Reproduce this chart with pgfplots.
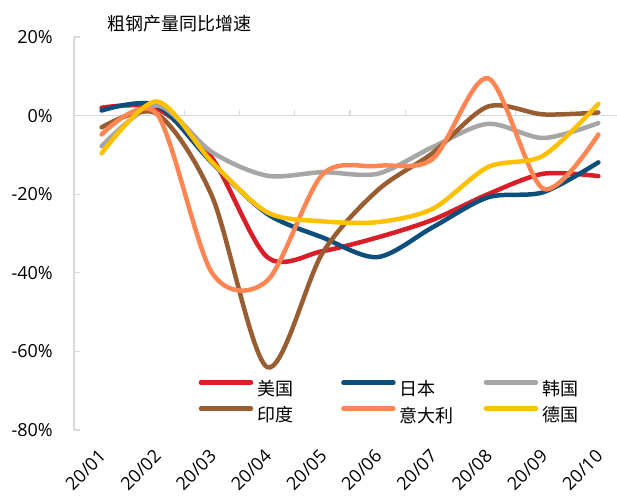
\documentclass[border=0pt]{standalone}
\usepackage{pgfplots}
\pgfplotsset{compat=1.18}
\usepackage{fontspec}
\setmainfont{Open Sans}
\newfontfamily\cjk{Noto Sans CJK SC}

\definecolor{usRed}{RGB}{217,30,40}
\definecolor{jpBlue}{RGB}{12,78,124}
\definecolor{krGray}{RGB}{166,166,166}
\definecolor{inBrown}{RGB}{152,94,50}
\definecolor{itOrange}{RGB}{255,133,82}
\definecolor{deYellow}{RGB}{255,192,0}
\definecolor{axGray}{RGB}{217,217,217}

\newcommand{\lab}[1]{\makebox[80pt][l]{\cjk #1}}

\begin{document}
\begin{tikzpicture}
\useasboundingbox (0,0) rectangle (617pt,495pt);
\begin{axis}[
  at={(74pt,65pt)}, anchor=south west,
  scale only axis, width=543.7pt, height=393pt,
  xmin=-0.5, xmax=9.35, ymin=-80, ymax=20,
  axis lines=left, axis line style={-},
  x axis line style={draw=none},
  y axis line style={axGray, line width=1.3pt},
  xtick={0,...,9},
  xticklabels={20/01,20/02,20/03,20/04,20/05,20/06,20/07,20/08,20/09,20/10},
  xtick style={draw=none},
  xticklabel style={anchor=east, inner sep=0pt, xshift=1pt, yshift=-23pt, rotate=45},
  ytick={-80,-60,-40,-20,0,20},
  yticklabels={-80\%,-60\%,-40\%,-20\%,0\%,20\%},
  ytick style={axGray, line width=1.3pt},
  tick align=inside, major tick length=6pt,
  yticklabel style={anchor=east, inner sep=0pt, xshift=-21pt},
  tick label style={font=\fontsize{18}{21}\selectfont},
  every axis plot/.append style={line width=4.5pt, line cap=round, smooth},
  legend columns=3,
  legend style={at={(0.229,0.127)}, anchor=north west, draw=none, fill=none,
    inner sep=0pt, column sep=4pt, row sep=9pt,
    font=\fontsize{18}{21}\selectfont, nodes={inner sep=0pt}},
  legend cell align=left,
  legend image code/.code={\draw[#1] (0pt,6.5pt) -- (50pt,6.5pt);},
  clip=false,
]
\draw[axGray, line width=1.3pt] (axis cs:-0.5,0) -- (axis cs:9.35,0);
\pgfplotsinvokeforeach{0.5,1.5,...,8.5}{
  \draw[axGray, line width=1.3pt] (axis cs:#1,0) -- ++(0pt,6pt);
}
\addplot[usRed] coordinates {
  (0,2)(1,1.8)(2,-10.8)(3,-36)(4,-34.5)(5,-31)(6,-26.5)(7,-20)(8,-14.8)(9,-15.4)};
\addlegendentry{\lab{美国}}
\addplot[jpBlue] coordinates {
  (0,1.3)(1,2.6)(2,-12)(3,-25)(4,-31)(5,-36)(6,-28.4)(7,-20.8)(8,-19.5)(9,-11.9)};
\addlegendentry{\lab{日本}}
\addplot[krGray] coordinates {
  (0,-7.8)(1,2.6)(2,-9.3)(3,-15.3)(4,-14.4)(5,-14.8)(6,-8)(7,-2.1)(8,-5.7)(9,-1.9)};
\addlegendentry{\lab{韩国}}
\addplot[inBrown] coordinates {
  (0,-3)(1,0.5)(2,-20.5)(3,-64)(4,-35)(5,-19)(6,-9.5)(7,2.3)(8,0.3)(9,0.8)};
\addlegendentry{\lab{印度}}
\addplot[itOrange] coordinates {
  (0,-4.8)(1,0.5)(2,-40)(3,-42)(4,-15)(5,-12.8)(6,-11)(7,9.5)(8,-18.6)(9,-4.8)};
\addlegendentry{\lab{意大利}}
\addplot[deYellow] coordinates {
  (0,-9.6)(1,3.6)(2,-11.8)(3,-24.6)(4,-26.9)(5,-27.1)(6,-23.7)(7,-13.1)(8,-10.2)(9,3)};
\addlegendentry{\lab{德国}}
\end{axis}
\node[anchor=west, inner sep=0pt, font=\cjk\fontsize{18}{21}\selectfont] at (107pt,471pt) {粗钢产量同比增速};
\end{tikzpicture}
\end{document}
